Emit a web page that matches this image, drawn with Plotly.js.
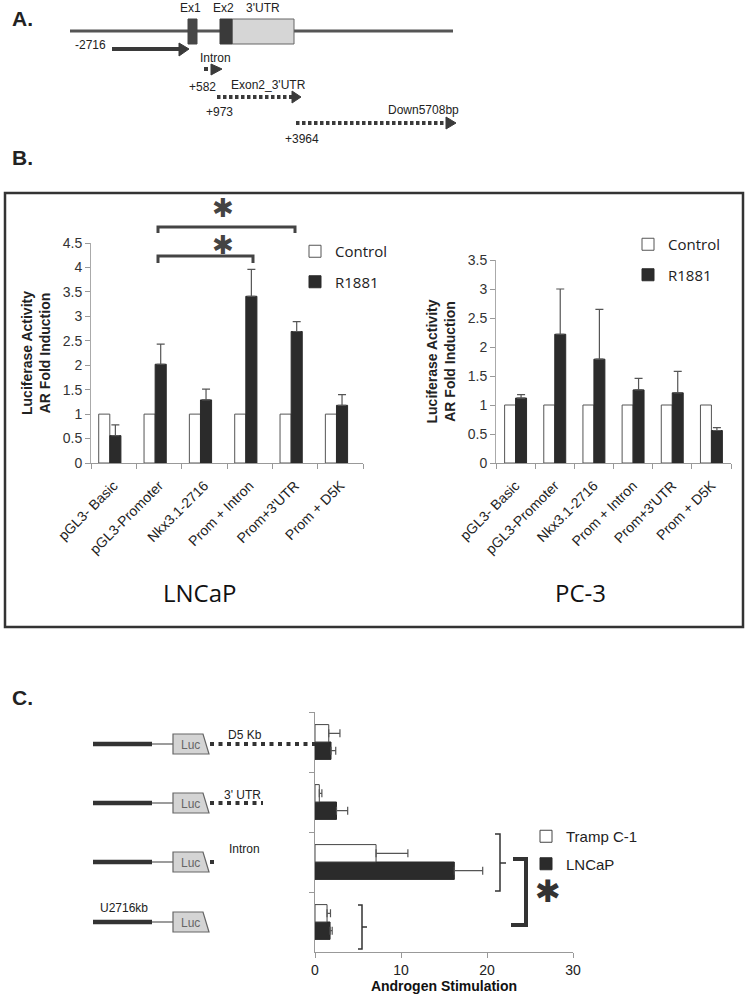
<!DOCTYPE html>
<html><head><meta charset="utf-8">
<script src="https://cdn.plot.ly/plotly-3.0.1.min.js"></script>
<style>html,body{margin:0;padding:0;background:#fff}</style>
</head><body><div id="chart" style="width:749px;height:998px"></div>
<script>
// ---------- data ----------
const constructs = ["pGL3- Basic", "pGL3-Promoter", "Nkx3.1-2716", "Prom + Intron", "Prom+3'UTR", "Prom + D5K"];
const lncapControl = [1, 1, 1, 1, 1, 1];
const lncapR1881 = [0.56, 2.02, 1.29, 3.41, 2.69, 1.18];
const lncapR1881Err = [0.22, 0.41, 0.22, 0.55, 0.20, 0.22];
const pc3Control = [1, 1, 1, 1, 1, 1];
const pc3R1881 = [1.12, 2.22, 1.79, 1.26, 1.21, 0.56];
const pc3R1881Err = [0.06, 0.78, 0.86, 0.20, 0.37, 0.05];
const cConstructs = ["U2716kb", "Intron", "3' UTR", "D5 Kb"];
const trampC1 = [1.4, 7.1, 0.5, 1.6];
const trampC1Err = [0.4, 3.7, 0.3, 1.3];
const lncapC = [1.75, 16.2, 2.5, 1.86];
const lncapCErr = [0.25, 3.3, 1.3, 0.55];

// ---------- helpers (pixel -> paper) ----------
const W = 749, H = 998;
const X = v => v / W;
const Y = v => 1 - v / H;
const P = pts => pts.map((p, i) => (i ? 'L' : 'M') + X(p[0]) + ',' + Y(p[1])).join('') ;
const shapes = [];
const ann = [];
function seg(x0, y0, x1, y1, color, width, dash) {
  shapes.push({type: 'line', xref: 'paper', yref: 'paper', x0: X(x0), y0: Y(y0), x1: X(x1), y1: Y(y1),
    line: {color: color, width: width, dash: dash || 'solid'}});
}
function poly(pts, fill, lineColor, lw, closed) {
  shapes.push({type: 'path', xref: 'paper', yref: 'paper', path: P(pts) + (closed ? 'Z' : ''),
    fillcolor: fill || 'rgba(0,0,0,0)', line: {color: lineColor || fill, width: lw === undefined ? 1 : lw}});
}
function rect(x0, y0, x1, y1, fill, lineColor, lw) {
  shapes.push({type: 'rect', xref: 'paper', yref: 'paper', x0: X(x0), y0: Y(y0), x1: X(x1), y1: Y(y1),
    fillcolor: fill, line: {color: lineColor, width: lw}});
}
function txt(x, y, t, size, opts) {
  opts = opts || {};
  ann.push({xref: 'paper', yref: 'paper', x: X(x), y: Y(y), text: t, showarrow: false,
    xanchor: opts.xanchor || 'center', yanchor: 'middle',
    font: {family: opts.family || 'Liberation Sans, Arial, sans-serif', size: size, color: opts.color || '#222'}});
}

// ---------- panel A: gene diagram ----------
txt(22, 18, '<b>A.</b>', 21, {family: 'Liberation Sans, Arial'});
seg(70, 31, 453, 31, '#555', 3);
rect(188, 19, 197, 44, '#474747', '#474747', 1);
rect(232, 19, 294, 44, '#d6d6d6', '#666', 1);
rect(220, 19, 232, 44, '#3a3a3a', '#3a3a3a', 1);
txt(190, 8, 'Ex1', 12);
txt(224, 8, 'Ex2', 12);
txt(263, 8, "3'UTR", 12);
// solid arrow (promoter)
seg(112, 49, 180, 49, '#3a3a3a', 4);
poly([[179, 43], [189, 49], [179, 56]], '#3a3a3a', '#3a3a3a', 1, true);
txt(90, 45, '-2716', 12);
// intron arrow
seg(204, 69, 210, 69, '#3a3a3a', 4, '4px,3px');
poly([[211, 64], [222, 69], [211, 75]], '#3a3a3a', '#3a3a3a', 1, true);
txt(215, 58, 'Intron', 12);
txt(202, 87, '+582', 12);
// exon2_3'UTR arrow
seg(217, 97, 292, 97, '#3a3a3a', 4, '3.5px,2.5px');
poly([[292, 91], [301, 97], [292, 103]], '#3a3a3a', '#3a3a3a', 1, true);
txt(268, 85, "Exon2_3'UTR", 12);
txt(219, 112, '+973', 12);
// down arrow
seg(296, 123, 446, 123, '#3a3a3a', 4, '3.5px,2.5px');
poly([[446, 117], [456, 123], [446, 129]], '#3a3a3a', '#3a3a3a', 1, true);
txt(423, 110, 'Down5708bp', 12);
txt(302, 139, '+3964', 12);

// ---------- panel B ----------
txt(22, 157, '<b>B.</b>', 21);
rect(5, 193, 743, 627, 'rgba(0,0,0,0)', '#333', 2.5);
// significance brackets
poly([[158, 233], [158, 227], [295, 227], [295, 233]], null, '#444', 3);
poly([[158, 263], [158, 256], [253, 256], [253, 263]], null, '#444', 3);
txt(223, 208, '✱', 26, {family: 'DejaVu Sans', color: '#444'});
txt(223, 245, '✱', 26, {family: 'DejaVu Sans', color: '#444'});
txt(200, 592, 'LNCaP', 24, {family: 'Open Sans, sans-serif', color: '#111'});
txt(580, 592, 'PC-3', 24, {family: 'Open Sans, sans-serif', color: '#111'});

// ---------- panel C: constructs ----------
txt(22, 697, '<b>C.</b>', 21);
const rows = [922, 862, 803, 744]; // U2716, Intron, 3'UTR, D5Kb (pixel rows of the diagram)
const dotEnds = [null, 218, 263, 315];
rows.forEach((ry, i) => {
  seg(93, ry, 152, ry, '#333', 4.5);
  seg(152, ry, 173, ry, '#666', 1.3);
  if (dotEnds[i]) seg(210, ry, dotEnds[i], ry, '#333', 4, '4px,4.5px');
  poly([[173, ry - 10], [203, ry - 10], [209, ry + 10], [173, ry + 10]], '#d4d4d4', '#666', 1.2, true);
  txt(190, ry + 1, 'Luc', 12, {color: '#666'});
});
txt(245, 735, 'D5 Kb', 12);
txt(242, 795, "3' UTR", 12);
txt(244, 849, 'Intron', 12);
txt(124, 908, 'U2716kb', 12);
// brackets in C
poly([[358, 905], [362, 905], [362, 949], [358, 949]], null, '#333', 1.5);
seg(362, 927, 367, 927, '#333', 1.5);
poly([[495, 834], [500, 834], [500, 891], [495, 891]], null, '#333', 1.5);
seg(500, 863, 506, 863, '#333', 1.5);
poly([[513, 859], [526, 859], [526, 925], [511, 925]], null, '#333', 4);
txt(548, 891, '✱', 31, {family: 'DejaVu Sans', color: '#333'});

// ---------- traces ----------
const errStyle = {color: '#555', thickness: 1.2, width: 4};
const zeros6 = constructs.map(() => 0);
const zeros4 = cConstructs.map(() => 0);
const traces = [
  {type: 'bar', name: 'Control', x: constructs, y: lncapControl, xaxis: 'x', yaxis: 'y',
   width: 0.245, offset: -0.33, legend: 'legend', legendgroup: 'a',
   marker: {color: '#fff', line: {color: '#555', width: 1}}},
  {type: 'bar', name: 'R1881', x: constructs, y: lncapR1881, xaxis: 'x', yaxis: 'y',
   width: 0.245, offset: -0.085, legend: 'legend', legendgroup: 'b',
   marker: {color: '#2b2b2b', line: {color: '#2b2b2b', width: 1}},
   error_y: Object.assign({type: 'data', symmetric: false, array: lncapR1881Err, arrayminus: zeros6}, errStyle)},
  {type: 'bar', name: 'Control', x: constructs, y: pc3Control, xaxis: 'x2', yaxis: 'y2',
   width: 0.28, offset: -0.28, legend: 'legend2', legendgroup: 'c',
   marker: {color: '#fff', line: {color: '#555', width: 1}}},
  {type: 'bar', name: 'R1881', x: constructs, y: pc3R1881, xaxis: 'x2', yaxis: 'y2',
   width: 0.28, offset: 0, legend: 'legend2', legendgroup: 'd',
   marker: {color: '#2b2b2b', line: {color: '#2b2b2b', width: 1}},
   error_y: Object.assign({type: 'data', symmetric: false, array: pc3R1881Err, arrayminus: zeros6}, errStyle)},
  {type: 'bar', orientation: 'h', name: 'LNCaP', y: cConstructs, x: lncapC, xaxis: 'x3', yaxis: 'y3',
   width: 0.29, offset: -0.29, legend: 'legend3', legendrank: 2, legendgroup: 'f',
   marker: {color: '#2b2b2b', line: {color: '#2b2b2b', width: 1}},
   error_x: Object.assign({type: 'data', symmetric: false, array: lncapCErr, arrayminus: zeros4}, errStyle)},
  {type: 'bar', orientation: 'h', name: 'Tramp C-1', y: cConstructs, x: trampC1, xaxis: 'x3', yaxis: 'y3',
   width: 0.29, offset: 0, legend: 'legend3', legendrank: 1, legendgroup: 'e',
   marker: {color: '#fff', line: {color: '#444', width: 1}},
   error_x: Object.assign({type: 'data', symmetric: false, array: trampC1Err, arrayminus: zeros4}, errStyle)}
];

const tickFontB = {family: 'Liberation Sans, Arial, sans-serif', size: 14, color: '#333'};
const catFont = {family: 'Liberation Sans, Arial, sans-serif', size: 14, color: '#222'};
const yTitleB = {text: '<b>Luciferase Activity<br>AR Fold Induction</b>', font: {family: 'Liberation Sans, Arial', size: 14, color: '#222'}, standoff: 8};

const layout = {
  width: W, height: H, margin: {l: 0, r: 0, t: 0, b: 0},
  paper_bgcolor: '#fff', plot_bgcolor: 'rgba(0,0,0,0)',
  barmode: 'group', showlegend: true,
  xaxis: {domain: [X(91), X(363)], anchor: 'y', type: 'category', range: [-0.5, 5.5], tickson: 'boundaries',
    ticks: 'outside', ticklen: 5, tickcolor: '#999', showline: true, linecolor: '#999', linewidth: 1,
    tickangle: -45, tickfont: catFont, ticklabelstandoff: 8, showgrid: false},
  yaxis: {domain: [Y(463), Y(243)], anchor: 'x', range: [0, 4.5], dtick: 0.5, ticks: 'outside', ticklen: 5,
    tickcolor: '#999', showline: true, linecolor: '#aaa', showgrid: false, zeroline: false, tickfont: tickFontB,
    title: yTitleB},
  xaxis2: {domain: [X(496), X(731)], anchor: 'y2', type: 'category', range: [-0.5, 5.5], tickson: 'boundaries',
    ticks: 'outside', ticklen: 5, tickcolor: '#999', showline: true, linecolor: '#999', linewidth: 1,
    tickangle: -45, tickfont: catFont, ticklabelstandoff: 8, showgrid: false},
  yaxis2: {domain: [Y(463), Y(260)], anchor: 'x2', range: [0, 3.5], dtick: 0.5, ticks: 'outside', ticklen: 5,
    tickcolor: '#999', showline: true, linecolor: '#aaa', showgrid: false, zeroline: false, tickfont: tickFontB,
    title: yTitleB},
  xaxis3: {domain: [X(315), X(573)], anchor: 'y3', range: [0, 30], dtick: 10, ticks: 'outside', ticklen: 5,
    tickcolor: '#999', showline: true, linecolor: '#999', showgrid: false, zeroline: false,
    tickfont: {family: 'Liberation Sans, Arial', size: 14, color: '#222'},
    title: {text: '<b>Androgen Stimulation</b>', font: {family: 'Liberation Sans, Arial', size: 14, color: '#111'}, standoff: 0}},
  yaxis3: {domain: [Y(952), Y(712)], anchor: 'x3', type: 'category', categoryarray: cConstructs,
    categoryorder: 'array', range: [-0.5, 3.5], tickson: 'boundaries', ticks: 'outside', ticklen: 5,
    tickcolor: '#999', showline: true, linecolor: '#999', showticklabels: false, showgrid: false},
  legend: {x: X(295), y: Y(235), xanchor: 'left', yanchor: 'top', traceorder: 'grouped', tracegroupgap: 8,
    font: {family: 'Open Sans, sans-serif', size: 15, color: '#222'}, bgcolor: 'rgba(0,0,0,0)'},
  legend2: {x: X(628), y: Y(228), xanchor: 'left', yanchor: 'top', traceorder: 'grouped', tracegroupgap: 8,
    font: {family: 'Open Sans, sans-serif', size: 15, color: '#222'}, bgcolor: 'rgba(0,0,0,0)'},
  legend3: {x: X(526), y: Y(820), xanchor: 'left', yanchor: 'top', traceorder: 'grouped', tracegroupgap: 5,
    font: {family: 'Liberation Sans, Arial', size: 15, color: '#222'}, bgcolor: 'rgba(0,0,0,0)'},
  shapes: shapes, annotations: ann
};

Plotly.newPlot('chart', traces, layout, {staticPlot: true, displayModeBar: false});
</script></body></html>
